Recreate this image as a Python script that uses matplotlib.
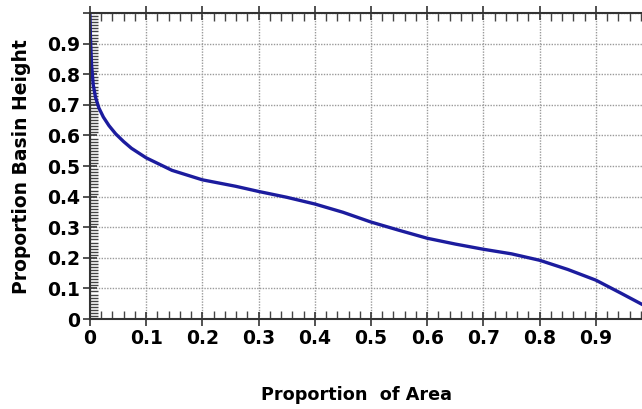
import matplotlib
matplotlib.use("Agg")
import matplotlib.pyplot as plt
from matplotlib.ticker import MultipleLocator, FuncFormatter

# hypsometric curve: proportion of area vs proportion of basin height
area = [0, 0.001, 0.003, 0.006, 0.01, 0.016, 0.024, 0.034, 0.046, 0.06,
        0.074, 0.1, 0.146, 0.2, 0.259, 0.3, 0.35, 0.4, 0.45, 0.5,
        0.55, 0.6, 0.65, 0.7, 0.75, 0.8, 0.85, 0.9, 0.945, 0.984]
height = [1.0, 0.92, 0.83, 0.765, 0.725, 0.69, 0.66, 0.632, 0.605, 0.58,
          0.558, 0.527, 0.486, 0.455, 0.434, 0.417, 0.398, 0.376, 0.349, 0.317,
          0.29, 0.264, 0.245, 0.228, 0.213, 0.192, 0.162, 0.127, 0.084, 0.046]

fig = plt.figure(figsize=(6.42, 4.09), dpi=100)
ax = fig.add_axes([0.140, 0.22, 0.86, 0.748])

ax.plot(area, height, color="#1c1c9e", lw=2.4, solid_capstyle="round",
        solid_joinstyle="round")

ax.set_xlim(0, 0.982)
ax.set_ylim(0, 1.0)

ax.xaxis.set_major_locator(MultipleLocator(0.1))
ax.xaxis.set_minor_locator(MultipleLocator(0.02))
ax.yaxis.set_major_locator(MultipleLocator(0.1))
ax.yaxis.set_minor_locator(MultipleLocator(0.01))


def fmt(v, pos):
    if abs(v) < 1e-9:
        return "0"
    if v > 0.95:
        return ""
    return "%.1f" % v


ax.xaxis.set_major_formatter(FuncFormatter(fmt))
ax.yaxis.set_major_formatter(FuncFormatter(fmt))

ax.grid(True, which="major", color="#9a9a9a", linestyle=(0, (1, 1)), lw=1.0)

ax.tick_params(which="major", direction="inout", length=10, width=1.2,
               top=True, right=False, labelsize=13.5, color="#333333", pad=2)
ax.tick_params(which="minor", direction="in", length=6, width=1.0,
               top=True, right=False, color="#444444")
for lab in ax.get_xticklabels() + ax.get_yticklabels():
    lab.set_fontweight("bold")

for s in ["left", "bottom", "top"]:
    ax.spines[s].set_color("#333333")
    ax.spines[s].set_linewidth(1.5)
ax.spines["right"].set_visible(False)

fig.text(0.556, 0.022, "Proportion  of Area", ha="center", va="baseline",
         fontsize=12.7, fontweight="bold")
fig.text(0.034, 0.592, "Proportion Basin Height", ha="center", va="center",
         rotation=90, fontsize=13.5, fontweight="bold")

fig.savefig("out.png", dpi=100)
